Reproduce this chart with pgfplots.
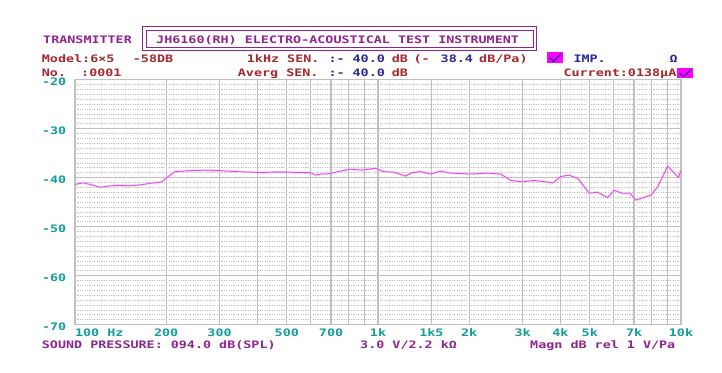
\documentclass[border=0pt]{standalone}
\usepackage{pgfplots}
\pgfplotsset{compat=1.18}
\usepackage{fontspec}
\newfontfamily\pix{DejaVu Sans Mono}[FakeStretch=1.3]
\definecolor{tpurple}{RGB}{145,35,145}
\definecolor{dred}{RGB}{165,40,45}
\definecolor{navy}{RGB}{40,40,155}
\definecolor{teal2}{RGB}{20,155,155}
\definecolor{gridg}{RGB}{192,192,192}
\definecolor{curvem}{RGB}{228,70,228}
\definecolor{curvel}{RGB}{248,190,248}
\definecolor{mag}{RGB}{255,0,255}
\newcommand{\pf}{\pix\bfseries\fontsize{10.3}{12}\selectfont}
\begin{document}
\begin{tikzpicture}[x=1pt,y=1pt]
\path[fill=white] (0,0) rectangle (722,372);
\begin{axis}[
  at={(75pt,47.5pt)}, anchor=south west,
  width=606pt, height=245pt, scale only axis,
  xmode=log, xmin=100, xmax=10000, ymin=-70, ymax=-20,
  xtick={100,200,300,500,700,1000,1500,2000,3000,4000,5000,7000,10000},
  xticklabels={\rlap{100 Hz},200,300,500,700,1k,1k5,2k,3k,4k,5k,7k,10k},
  minor xtick={400,600,800,900,6000,8000,9000},
  ytick={-70,-60,-50,-40,-30,-20},
  yticklabels={-70,-60,-50,-40,-30,-20},
  minor y tick num=9,
  major tick length=0pt, minor tick length=0pt,
  grid=both,
  major grid style={gridg, line width=1.2pt},
  minor x grid style={gridg, line width=1.2pt},
  minor y grid style={black!24, line width=0.6pt, dash pattern=on 1.2pt off 1.2pt},
  axis line style={gridg, line width=1.2pt},
  tick label style={font=\pf, text=teal2, inner sep=0pt},
  xticklabel style={anchor=base, yshift=-11.75pt},
  yticklabel style={anchor=base east, xshift=-8.5pt, yshift=-6pt},
]
\addplot[curvel, line width=2.2pt, opacity=0.6] coordinates {
(100,-41.4)(106.5,-41.1)(112,-41.4)(121,-42.0)(130.5,-41.7)(140.8,-41.6)(152,-41.7)(164,-41.5)(177,-41.2)(193.4,-40.9)(201,-40.0)(214,-38.8)(240,-38.6)(270,-38.5)(301.5,-38.6)(342,-38.8)(380,-38.9)(409,-39.0)(450,-38.9)(501,-38.9)(550,-39.0)(598,-39.0)(621,-39.5)(650,-39.3)(679,-39.3)(752,-38.7)(811,-38.3)(887,-38.5)(981,-38.1)(1043,-38.8)(1125,-38.9)(1233,-39.7)(1298,-39.0)(1382,-38.8)(1491,-39.3)(1610,-38.7)(1737,-39.1)(1880,-39.2)(2022,-39.3)(2296,-39.1)(2541,-39.3)(2742,-40.6)(2998,-40.9)(3266,-40.6)(3500,-40.8)(3775,-41.1)(4012,-39.8)(4264,-39.5)(4566,-40.2)(4976,-43.2)(5304,-43.0)(5724,-44.1)(6019,-42.6)(6383,-43.2)(6782,-43.2)(7099,-44.6)(7960,-43.6)(8375,-41.9)(9036,-37.7)(9810,-40.0)(10000,-38.5)
};
\addplot[curvem, line width=0.8pt] coordinates {
(100,-41.4)(106.5,-41.1)(112,-41.4)(121,-42.0)(130.5,-41.7)(140.8,-41.6)(152,-41.7)(164,-41.5)(177,-41.2)(193.4,-40.9)(201,-40.0)(214,-38.8)(240,-38.6)(270,-38.5)(301.5,-38.6)(342,-38.8)(380,-38.9)(409,-39.0)(450,-38.9)(501,-38.9)(550,-39.0)(598,-39.0)(621,-39.5)(650,-39.3)(679,-39.3)(752,-38.7)(811,-38.3)(887,-38.5)(981,-38.1)(1043,-38.8)(1125,-38.9)(1233,-39.7)(1298,-39.0)(1382,-38.8)(1491,-39.3)(1610,-38.7)(1737,-39.1)(1880,-39.2)(2022,-39.3)(2296,-39.1)(2541,-39.3)(2742,-40.6)(2998,-40.9)(3266,-40.6)(3500,-40.8)(3775,-41.1)(4012,-39.8)(4264,-39.5)(4566,-40.2)(4976,-43.2)(5304,-43.0)(5724,-44.1)(6019,-42.6)(6383,-43.2)(6782,-43.2)(7099,-44.6)(7960,-43.6)(8375,-41.9)(9036,-37.7)(9810,-40.0)(10000,-38.5)
};
\end{axis}
% header box
\draw[tpurple, line width=1.2pt] (142.5,345.5) rectangle (536.5,321.5);
\draw[tpurple, line width=0.9pt] (146.5,342) rectangle (533,325);
\begin{scope}[every node/.style={anchor=base west, inner sep=0pt, font=\pf}]
\node[text=tpurple] at (43,328.25) {TRANSMITTER};
\node[text=tpurple] at (156,328.25) {JH6160(RH) ELECTRO-ACOUSTICAL TEST INSTRUMENT};
% row 2
\node[text=dred] at (41.7,309.25) {Model:6×5};
\node[text=dred] at (132.7,309.25) {-58DB};
\node[text=dred] at (246.7,309.25) {1kHz SEN.};
\node[text=navy] at (328.3,309.25) {:- 40.0};
\node[text=dred] at (391.7,309.25) {dB};
\node[text=dred] at (413.3,309.25) {(-};
\node[text=navy] at (440.5,309.25) {38.4};
\node[text=dred] at (479,309.25) {dB/Pa)};
\node[text=navy] at (573.3,309.25) {IMP.};
\node[text=navy] at (669.3,309.25) {Ω};
% row 3
\node[text=dred] at (41.7,295.75) {No.};
\node[text=dred] at (81,295.75) {:0001};
\node[text=dred] at (237.7,295.75) {Averg SEN.};
\node[text=navy] at (328.3,295.75) {:- 40.0};
\node[text=dred] at (391.7,295.75) {dB};
\node[text=dred] at (563.3,295.75) {Current:0138μA};
% bottom
\node[text=tpurple] at (41.7,23.75) {SOUND PRESSURE: 094.0 dB(SPL)};
\node[text=tpurple] at (360,23.75) {3.0 V/2.2 kΩ};
\node[text=tpurple] at (530,23.75) {Magn dB rel 1 V/Pa};
\end{scope}
% magenta check boxes
\fill[mag] (546.7,308.7) rectangle (563.3,319.7);
\draw[navy, line width=1.1pt] (549.5,314.5) -- (553.5,310.5) -- (561,318);
\fill[mag] (676.7,293.7) rectangle (693.3,304.3);
\draw[navy, line width=1.1pt] (679.5,299) -- (683.5,295.5) -- (691,302.5);
\end{tikzpicture}
\end{document}
